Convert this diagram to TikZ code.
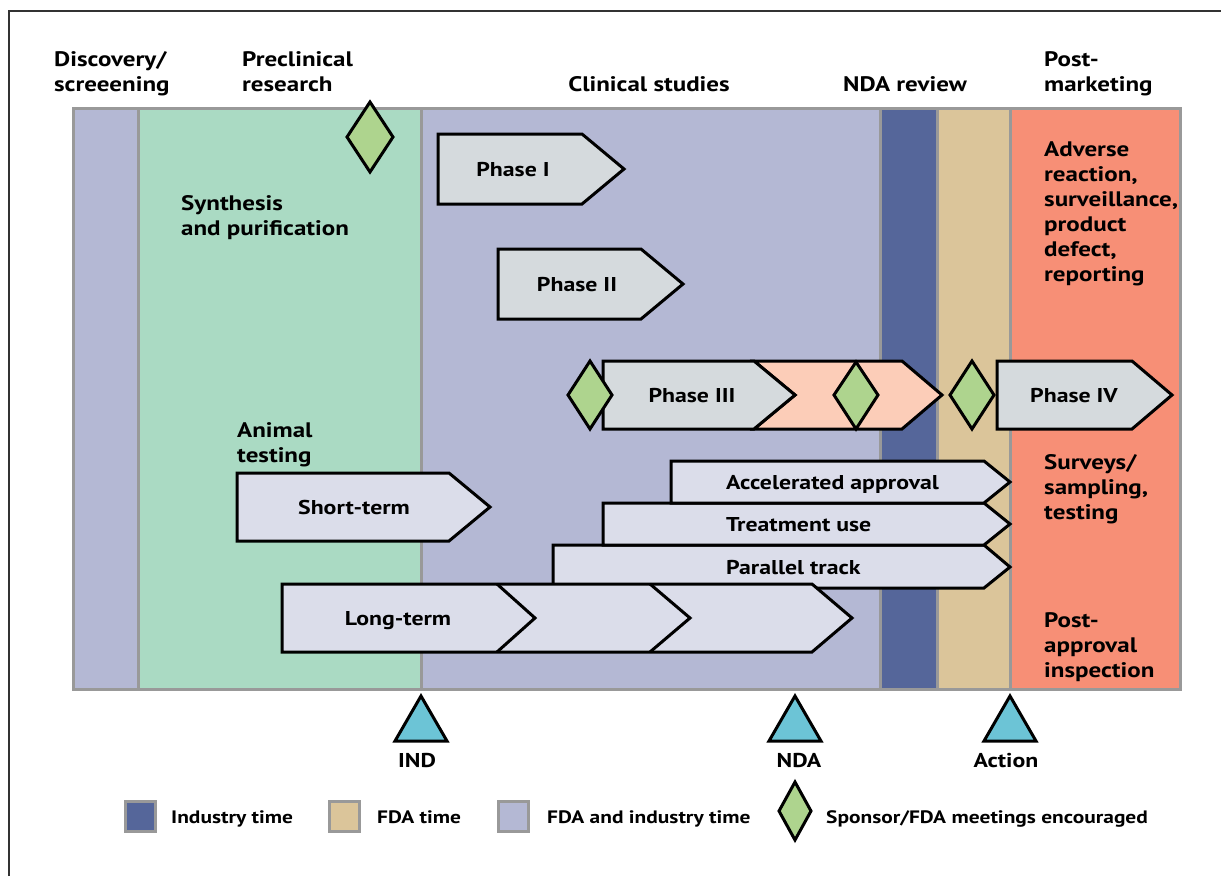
\documentclass[tikz,border=0pt]{standalone}
\usepackage{fontspec}
\setmainfont{PT Sans}[FakeStretch=1.19]
\definecolor{lav}{HTML}{B4B8D4}
\definecolor{grn}{HTML}{AADAC3}
\definecolor{dblue}{HTML}{55669A}
\definecolor{tan}{HTML}{DBC59A}
\definecolor{salm}{HTML}{F78F76}
\definecolor{bgray}{HTML}{999999}
\definecolor{dgreen}{HTML}{AED48E}
\definecolor{cyan}{HTML}{6CC4D6}
\definecolor{phgray}{HTML}{D5DADD}
\definecolor{llav}{HTML}{DBDDEA}
\definecolor{psalm}{HTML}{FCCDB8}
\begin{document}
\begin{tikzpicture}[x=1pt,y=-1pt,line join=miter,
  hd/.style={font=\fontsize{21}{25}\selectfont\bfseries,align=left,inner sep=0pt},
  lbl/.style={font=\fontsize{20}{25}\selectfont\bfseries,inner sep=0pt},
  lg/.style={font=\fontsize{18}{22}\selectfont\bfseries,inner sep=0pt,anchor=base west},
  arr/.style={draw=black,line width=3},
  dia/.style={draw=black,line width=3,fill=dgreen},
  tri/.style={draw=black,line width=3,fill=cyan},
  sep/.style={draw=bgray,line width=3}]
\useasboundingbox (0,0) rectangle (1221,876);
% frame
\draw[line width=1.2,black!80] (9,876) -- (9,11) -- (1221,11);
% columns
\fill[lav] (73,108) rectangle (138,689);
\fill[grn] (138,108) rectangle (421,689);
\fill[lav] (421,108) rectangle (880,689);
\fill[dblue] (880,108) rectangle (937,689);
\fill[tan] (937,108) rectangle (1010,689);
\fill[salm] (1010,108) rectangle (1180,689);
\foreach \xx in {138,421,880,937,1010} \draw[sep] (\xx,108) -- (\xx,689);
\draw[sep] (73,108) rectangle (1180,689);
% headings (base = baseline of last line)
\node[hd,anchor=base west] (h1) at (54,91) {Discovery/\\screeening};
\node[hd,anchor=base west] (h2) at (242,91) {Preclinical\\research};
\node[hd,anchor=base] (h3) at (649,91) {Clinical studies};
\node[hd,anchor=base] (h4) at (905,91) {NDA review};
\node[hd,anchor=base west] (h5) at (1044,91) {Post-\\marketing};
% preclinical texts
\node[hd,anchor=base west] (syn) at (181,235) {Synthesis\\and purification};
\node[hd,anchor=base west] (ani) at (237,462) {Animal\\testing};
% post-marketing texts
\node[hd,anchor=base west] (adv) at (1044,281) {Adverse\\reaction,\\surveillance,\\product\\defect,\\reporting};
\node[hd,anchor=base west] (sur) at (1044,519) {Surveys/\\sampling,\\testing};
\node[hd,anchor=base west] (pai) at (1044,677) {Post-\\approval\\inspection};
% top diamond
\draw[dia] (370,102) -- (393,137) -- (370,172) -- (347,137) -- cycle;
% Phase I
\draw[arr,fill=phgray] (438,134) -- (582,134) -- (624,169) -- (582,204) -- (438,204) -- cycle;
\node[lbl,anchor=base] (p1) at (513,176) {Phase I};
% Phase II
\draw[arr,fill=phgray] (498,249) -- (641,249) -- (683,284) -- (641,319) -- (498,319) -- cycle;
\node[lbl,anchor=base] (p2) at (577,291) {Phase II};
% Phase III
\draw[arr,fill=psalm] (754,361) -- (902,361) -- (942,395) -- (902,429) -- (754,429) -- (795,395) -- cycle;
\draw[arr,fill=phgray] (603,361) -- (754,361) -- (795,395) -- (754,429) -- (603,429) -- cycle;
\node[lbl,anchor=base] (p3) at (692,402) {Phase III};
\draw[dia] (590,361) -- (612,395) -- (590,429) -- (568,395) -- cycle;
\draw[dia] (856,362) -- (878,395) -- (856,429) -- (834,395) -- cycle;
% Phase IV
\draw[dia] (972,361) -- (994,395) -- (972,429) -- (950,395) -- cycle;
\draw[arr,fill=phgray] (997,361) -- (1132,361) -- (1172,395) -- (1132,429) -- (997,429) -- cycle;
\node[lbl,anchor=base] (p4) at (1074,402) {Phase IV};
% Short-term
\draw[arr,fill=llav] (237,473) -- (449,473) -- (490,507) -- (449,541) -- (237,541) -- cycle;
\node[lbl,anchor=base] (st) at (354,514) {Short-term};
% access tracks
\draw[arr,fill=llav] (553,545) -- (984,545) -- (1010,567) -- (984,588) -- (553,588) -- cycle;
\draw[arr,fill=llav] (603,503) -- (984,503) -- (1010,524) -- (984,545) -- (603,545) -- cycle;
\draw[arr,fill=llav] (671,461) -- (984,461) -- (1010,482) -- (984,503) -- (671,503) -- cycle;
\node[lbl,anchor=base west] (aa) at (726,489) {Accelerated approval};
\node[lbl,anchor=base west] (tu) at (726,531) {Treatment use};
\node[lbl,anchor=base west] (pt) at (726,574) {Parallel track};
% Long-term
\draw[arr,fill=llav] (282,584) -- (812,584) -- (852,618) -- (812,652) -- (282,652) -- cycle;
\draw[arr] (497,584) -- (535,618) -- (497,652);
\draw[arr] (650,584) -- (690,618) -- (650,652);
\node[lbl,anchor=base] (lt) at (398,625) {Long-term};
% milestones
\draw[tri] (421,696) -- (447,741) -- (395,741) -- cycle;
\draw[tri] (795,696) -- (821,741) -- (769,741) -- cycle;
\draw[tri] (1010,696) -- (1036,741) -- (984,741) -- cycle;
\node[lbl,anchor=base] (ind) at (417,767) {IND};
\node[lbl,anchor=base] (nda) at (799,767) {NDA};
\node[lbl,anchor=base] (act) at (1006,767) {Action};
% legend
\draw[sep,fill=dblue] (125,801) rectangle (155,831);
\node[lg] (l1) at (171,823) {Industry time};
\draw[sep,fill=tan] (329,801) rectangle (359,831);
\node[lg] (l2) at (377,823) {FDA time};
\draw[sep,fill=lav] (498,801) rectangle (528,831);
\node[lg] (l3) at (547,823) {FDA and industry time};
\draw[dia] (795,782) -- (811,811) -- (795,840) -- (779,811) -- cycle;
\node[lg] (l4) at (826,823) {Sponsor/FDA meetings encouraged};
\end{tikzpicture}
\end{document}
